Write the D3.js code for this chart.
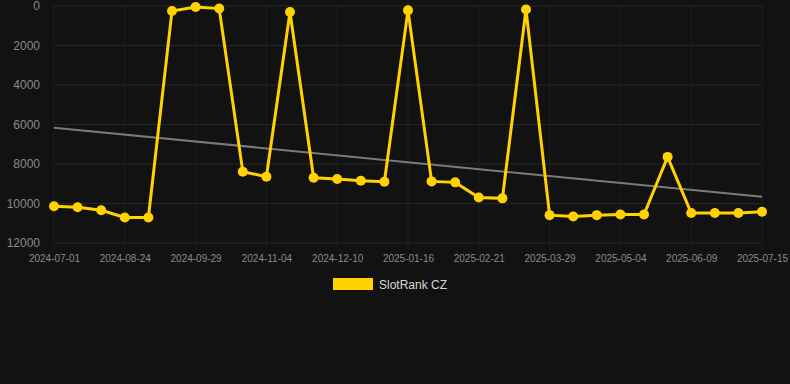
<!DOCTYPE html>
<html>
<head>
<meta charset="utf-8">
<script src="https://cdn.jsdelivr.net/npm/d3@7"></script>
<style>
  html, body { margin: 0; padding: 0; background: #121212; }
  svg { display: block; font-family: Arial, "Liberation Sans", sans-serif; }
</style>
</head>
<body>
<svg id="chart" width="790" height="384"></svg>
<script>
    // ============ DATA =================
    var dates = ["2024-07-01", "2024-07-19", "2024-08-06", "2024-08-24", "2024-09-05", "2024-09-17",
        "2024-09-29", "2024-10-11", "2024-10-23", "2024-11-04", "2024-11-16", "2024-11-28",
        "2024-12-10", "2024-12-22", "2025-01-03", "2025-01-16", "2025-01-28", "2025-02-09",
        "2025-02-21", "2025-03-05", "2025-03-17", "2025-03-29", "2025-04-10", "2025-04-22",
        "2025-05-04", "2025-05-16", "2025-05-28", "2025-06-09", "2025-06-21", "2025-07-03",
        "2025-07-15"];
    var rankValues = [10140, 10190, 10340, 10710, 10710, 250, 50, 130, 8390, 8640, 300,
        8700, 8760, 8850, 8900, 220, 8880, 8930, 9700, 9740, 180, 10590, 10660, 10590,
        10560, 10560, 7640, 10480, 10480, 10480, 10420];
    var yTicks = [0, 2000, 4000, 6000, 8000, 10000, 12000];
    var seriesName = "SlotRank CZ";
    var lineColor = "#ffd200";

    var margin = { top: 6, right: 28, bottom: 141, left: 54 };
    var width = 790 - margin.left - margin.right;
    var height = 384 - margin.top - margin.bottom;

    var svg = d3.select("#chart");
    var g = svg.append("g")
        .attr("transform", "translate(" + margin.left + "," + margin.top + ")");

    var xScale = d3.scalePoint()
        .domain(dates)
        .range([0, width]);

    var yScale = d3.scaleLinear()
        .domain([0, 12000])
        .range([0, height]);

    var tickDates = dates.filter(function (d, i) { return i % 3 === 0; });

    // grid
    g.append("g")
        .selectAll("line")
        .data(yTicks)
        .enter().append("line")
        .attr("x1", 0)
        .attr("x2", width)
        .attr("y1", function (d) { return yScale(d); })
        .attr("y2", function (d) { return yScale(d); })
        .attr("stroke", "#262626")
        .attr("stroke-width", 1);

    g.append("g")
        .selectAll("line")
        .data(tickDates)
        .enter().append("line")
        .attr("x1", function (d) { return xScale(d); })
        .attr("x2", function (d) { return xScale(d); })
        .attr("y1", 0)
        .attr("y2", height + 6)
        .attr("stroke", "#1f1f1f")
        .attr("stroke-width", 1);

    // axes
    var yAxis = g.append("g")
        .attr("transform", "translate(-11,0)")
        .call(d3.axisLeft(yScale).tickValues(yTicks).tickSize(0).tickFormat(d3.format("d")));
    yAxis.select(".domain").remove();
    yAxis.selectAll("text")
        .attr("fill", "#8a8a8a")
        .style("font-size", "12px");

    var xAxis = g.append("g")
        .attr("transform", "translate(0," + (height + 9) + ")")
        .call(d3.axisBottom(xScale).tickValues(tickDates).tickSize(0));
    xAxis.select(".domain").remove();
    xAxis.selectAll("text")
        .attr("fill", "#8a8a8a")
        .style("font-size", "10px");

    // trend line (least squares over the series)
    var n = rankValues.length;
    var meanX = d3.mean(rankValues, function (d, i) { return i; });
    var meanY = d3.mean(rankValues);
    var num = d3.sum(rankValues, function (d, i) { return (i - meanX) * (d - meanY); });
    var den = d3.sum(rankValues, function (d, i) { return (i - meanX) * (i - meanX); });
    var slope = num / den;
    var intercept = meanY - slope * meanX;

    g.append("line")
        .attr("x1", xScale(dates[0]))
        .attr("x2", xScale(dates[n - 1]))
        .attr("y1", yScale(intercept))
        .attr("y2", yScale(intercept + slope * (n - 1)))
        .attr("stroke", "#7a7a7a")
        .attr("stroke-width", 2);

    // series line
    var line = d3.line()
        .x(function (d, i) { return xScale(dates[i]); })
        .y(function (d) { return yScale(d); });

    g.append("path")
        .datum(rankValues)
        .attr("d", line)
        .attr("fill", "none")
        .attr("stroke", lineColor)
        .attr("stroke-width", 3);

    g.selectAll(".dot")
        .data(rankValues)
        .enter().append("circle")
        .attr("class", "dot")
        .attr("cx", function (d, i) { return xScale(dates[i]); })
        .attr("cy", function (d) { return yScale(d); })
        .attr("r", 5)
        .attr("fill", lineColor);

    // legend
    var legend = svg.append("g")
        .attr("transform", "translate(333,278)");
    legend.append("rect")
        .attr("width", 40)
        .attr("height", 12)
        .attr("fill", lineColor);
    legend.append("text")
        .attr("x", 46)
        .attr("y", 10.5)
        .attr("fill", "#d8d8d8")
        .style("font-size", "12px")
        .text(seriesName);
</script>
</body>
</html>
